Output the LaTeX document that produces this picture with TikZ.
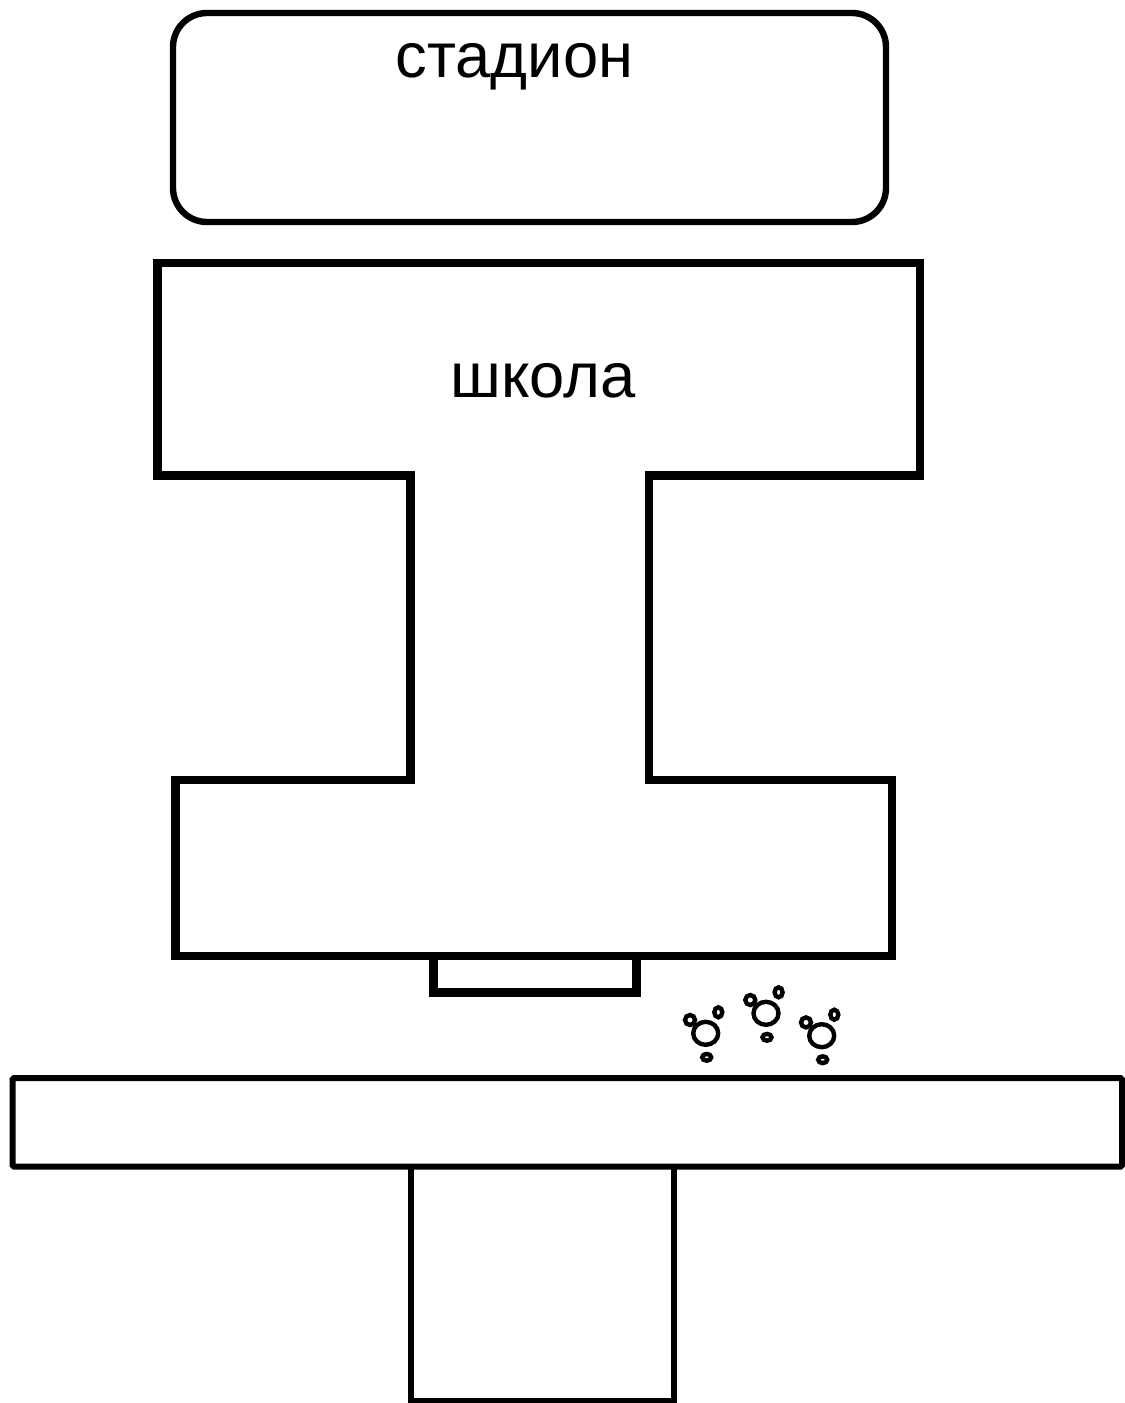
\documentclass[tikz,border=0pt]{standalone}
\usepackage{fontspec}
\setmainfont{Liberation Sans}
\tikzset{
  outline/.style={draw=black,line width=#1,line join=miter,fill=none},
  bubble/.style={draw=black,line width=4.4bp,fill=none},
  label/.style={inner sep=0pt,anchor=base,text=black,font=\fontsize{63.3bp}{63.3bp}\selectfont}
}
\begin{document}
\begin{tikzpicture}[x=1bp,y=-1bp]
\useasboundingbox[fill=white] (0,0) rectangle (1124,1403);
% stadium
\draw[outline=6.4bp,rounded corners=34bp] (173,13) rectangle (886,222);
\node[label] (stadium) at (514.5,78) {стадион};
% school
\draw[outline=8.5bp] (157.5,263) -- (920,263) -- (920,475.5) -- (649,475.5) -- (649,780)
  -- (892,780) -- (892,956) -- (175.5,956) -- (175.5,780) -- (410.5,780)
  -- (410.5,475.5) -- (157.5,475.5) -- cycle;
\node[label] (school) at (543,397) {школа};
% porch
\draw[outline=8.5bp] (433.5,956) -- (433.5,992.5) -- (636.5,992.5) -- (636.5,956);
% road
\draw[outline=6bp,rounded corners=1.5bp] (12.5,1078) rectangle (1122,1166.5);
% lower block
\draw[outline=6bp] (411,1167) -- (411,1400.5) -- (674,1400.5) -- (674,1167);
% bushes
\foreach \dx/\dy [count=\i] in {0/0,60.3/-20,116/2.4}{
  \begin{scope}[shift={(\dx,\dy)}]
    \draw[bubble] (705.7,1033.3) ellipse [x radius=12.5bp,y radius=11.5bp];
    \draw[bubble] (690,1020) circle [radius=5bp];
    \draw[bubble] (718.3,1012.3) ellipse [x radius=4bp,y radius=5bp];
    \draw[bubble] (706.7,1057.3) ellipse [x radius=4.5bp,y radius=3.4bp];
  \end{scope}
}
\end{tikzpicture}
\end{document}
